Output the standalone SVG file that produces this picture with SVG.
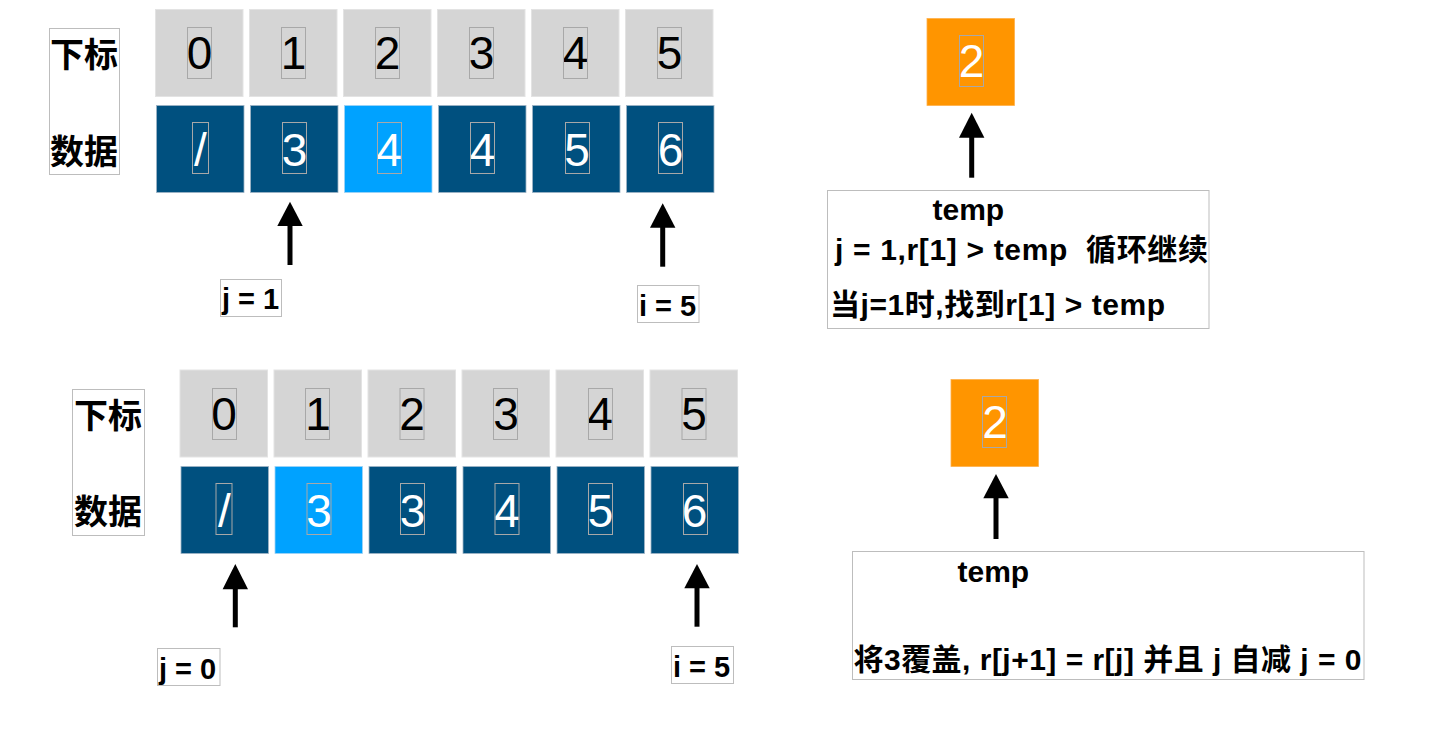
<svg xmlns="http://www.w3.org/2000/svg" width="1448" height="744" viewBox="0 0 1448 744">
<style>
.bg{fill:#ffffff}
.gray{fill:#d5d5d5;stroke:#e3e3e3;stroke-width:1}
.dark{fill:#00507f;stroke:#9fb4c6;stroke-width:0.8}
.light{fill:#00a2ff;stroke:#9fd3f5;stroke-width:0.8}
.orange{fill:#ff9500;stroke:#ffb04a;stroke-width:0.8}
.tf{fill:none;stroke:#a8a8a8;stroke-width:1}
.lbl{fill:#ffffff;stroke:#bdbdbd;stroke-width:1}
.dk{font-family:"Liberation Sans","Noto Sans CJK SC",sans-serif;font-size:46px;fill:#000;text-anchor:middle}
.wt{font-family:"Liberation Sans","Noto Sans CJK SC",sans-serif;font-size:46px;fill:#fff;text-anchor:middle}
.cj{font-family:"Liberation Sans","Noto Sans CJK SC",sans-serif;font-size:34px;font-weight:bold;fill:#000;text-anchor:middle}
.pt{font-family:"Liberation Sans","Noto Sans CJK SC",sans-serif;font-size:29px;font-weight:bold;fill:#000}
.tx{font-family:"Liberation Sans","Noto Sans CJK SC",sans-serif;font-size:30px;font-weight:bold;fill:#000;white-space:pre}
.shaft{stroke:#000;stroke-width:5;fill:none}
.head{fill:#000}
</style>
<rect class="bg" x="0" y="0" width="1448" height="744"/>

<!-- ===== Top section ===== -->
<g id="top-legend">
  <rect class="lbl" x="49.5" y="28.5" width="70" height="146"/>
  <text class="cj" x="84" y="67">下标</text>
  <text class="cj" x="84" y="164">数据</text>
</g>

<g id="top-index">
  <g id="ti0"><rect class="gray" x="155.5" y="9.5" width="87.5" height="87"/><text class="dk" x="199.5" y="69">0</text><rect class="tf" x="187.5" y="27.5" width="24" height="51"/></g>
  <g id="ti1"><rect class="gray" x="249.5" y="9.5" width="87.5" height="87"/><text class="dk" x="293.5" y="69">1</text><rect class="tf" x="281.5" y="27.5" width="24" height="51"/></g>
  <g id="ti2"><rect class="gray" x="343.5" y="9.5" width="87.5" height="87"/><text class="dk" x="387.5" y="69">2</text><rect class="tf" x="375.5" y="27.5" width="24" height="51"/></g>
  <g id="ti3"><rect class="gray" x="437.5" y="9.5" width="87.5" height="87"/><text class="dk" x="481.5" y="69">3</text><rect class="tf" x="469.5" y="27.5" width="24" height="51"/></g>
  <g id="ti4"><rect class="gray" x="531.5" y="9.5" width="87.5" height="87"/><text class="dk" x="575.5" y="69">4</text><rect class="tf" x="563.5" y="27.5" width="24" height="51"/></g>
  <g id="ti5"><rect class="gray" x="625.5" y="9.5" width="87.5" height="87"/><text class="dk" x="669.5" y="69">5</text><rect class="tf" x="657.5" y="27.5" width="24" height="51"/></g>
</g>

<g id="top-data">
  <g id="td0"><rect class="dark" x="156.5" y="105.5" width="87.5" height="87"/><text class="wt" x="200.5" y="166">/</text><rect class="tf" x="192.5" y="122.5" width="16" height="51"/></g>
  <g id="td1"><rect class="dark" x="250.5" y="105.5" width="87.5" height="87"/><text class="wt" x="294.5" y="166">3</text><rect class="tf" x="282.5" y="122.5" width="24" height="51"/></g>
  <g id="td2"><rect class="light" x="344.5" y="105.5" width="87.5" height="87"/><text class="wt" x="389" y="166">4</text><rect class="tf" x="377.5" y="122.5" width="24" height="51"/></g>
  <g id="td3"><rect class="dark" x="438.5" y="105.5" width="87.5" height="87"/><text class="wt" x="482.5" y="166">4</text><rect class="tf" x="470.5" y="122.5" width="24" height="51"/></g>
  <g id="td4"><rect class="dark" x="532.5" y="105.5" width="87.5" height="87"/><text class="wt" x="577" y="166">5</text><rect class="tf" x="565.5" y="122.5" width="24" height="51"/></g>
  <g id="td5"><rect class="dark" x="626.5" y="105.5" width="87.5" height="87"/><text class="wt" x="670.5" y="166">6</text><rect class="tf" x="658.5" y="122.5" width="24" height="51"/></g>
</g>

<g id="top-j-label"><rect class="lbl" x="220.5" y="279.5" width="61" height="37"/><text class="pt" x="222" y="309">j = 1</text></g>
<g id="top-i-label"><rect class="lbl" x="637.5" y="285.5" width="61.5" height="37"/><text class="pt" x="639" y="315.5">i = 5</text></g>

<g id="top-temp"><rect class="orange" x="927" y="18.5" width="87.5" height="87"/><text class="wt" x="971.5" y="77">2</text><rect class="tf" x="959.5" y="35.5" width="24" height="51"/></g>

<g id="top-note">
  <rect class="lbl" x="827.5" y="190.5" width="381.5" height="138"/>
  <text class="tx" x="932.5" y="220">temp</text>
  <text class="tx" x="835" y="259.5" textLength="373" lengthAdjust="spacing">j = 1,r[1] &gt; temp  循环继续</text>
  <text class="tx" x="830" y="315" textLength="335" lengthAdjust="spacing">当j=1时,找到r[1] &gt; temp</text>
</g>

<!-- ===== Bottom section ===== -->
<g id="bottom-legend">
  <rect class="lbl" x="72.5" y="389.5" width="72" height="146"/>
  <text class="cj" x="108" y="427.5">下标</text>
  <text class="cj" x="108" y="524">数据</text>
</g>

<g id="bottom-index">
  <g id="bi0"><rect class="gray" x="180" y="370" width="87.5" height="87"/><text class="dk" x="224" y="430">0</text><rect class="tf" x="212.5" y="388.5" width="24" height="51"/></g>
  <g id="bi1"><rect class="gray" x="274" y="370" width="87.5" height="87"/><text class="dk" x="318" y="430">1</text><rect class="tf" x="305.5" y="388.5" width="24" height="51"/></g>
  <g id="bi2"><rect class="gray" x="368" y="370" width="87.5" height="87"/><text class="dk" x="412" y="430">2</text><rect class="tf" x="400" y="388.5" width="24" height="51"/></g>
  <g id="bi3"><rect class="gray" x="462" y="370" width="87.5" height="87"/><text class="dk" x="506" y="430">3</text><rect class="tf" x="493.5" y="388.5" width="24" height="51"/></g>
  <g id="bi4"><rect class="gray" x="556" y="370" width="87.5" height="87"/><text class="dk" x="600" y="430">4</text><rect class="tf" x="588.5" y="388.5" width="24" height="51"/></g>
  <g id="bi5"><rect class="gray" x="650" y="370" width="87.5" height="87"/><text class="dk" x="694" y="430">5</text><rect class="tf" x="682" y="388.5" width="24" height="51"/></g>
</g>

<g id="bottom-data">
  <g id="bd0"><rect class="dark" x="181" y="466.5" width="87.5" height="87"/><text class="wt" x="224.5" y="527">/</text><rect class="tf" x="216" y="483.5" width="16" height="51"/></g>
  <g id="bd1"><rect class="light" x="275" y="466.5" width="87.5" height="87"/><text class="wt" x="319" y="527">3</text><rect class="tf" x="307" y="483.5" width="24" height="51"/></g>
  <g id="bd2"><rect class="dark" x="369" y="466.5" width="87.5" height="87"/><text class="wt" x="412.5" y="527">3</text><rect class="tf" x="400.5" y="483.5" width="24" height="51"/></g>
  <g id="bd3"><rect class="dark" x="463" y="466.5" width="87.5" height="87"/><text class="wt" x="507" y="527">4</text><rect class="tf" x="495" y="483.5" width="24" height="51"/></g>
  <g id="bd4"><rect class="dark" x="557" y="466.5" width="87.5" height="87"/><text class="wt" x="600.5" y="527">5</text><rect class="tf" x="588.5" y="483.5" width="24" height="51"/></g>
  <g id="bd5"><rect class="dark" x="651" y="466.5" width="87.5" height="87"/><text class="wt" x="694.5" y="527">6</text><rect class="tf" x="683.5" y="483.5" width="24" height="51"/></g>
</g>

<g id="bottom-j-label"><rect class="lbl" x="157.5" y="648.5" width="62.5" height="37"/><text class="pt" x="159" y="678.5">j = 0</text></g>
<g id="bottom-i-label"><rect class="lbl" x="671.5" y="646.5" width="62" height="37"/><text class="pt" x="673" y="676.5">i = 5</text></g>

<g id="bottom-temp"><rect class="orange" x="951" y="379.5" width="87.5" height="87"/><text class="wt" x="995" y="438">2</text><rect class="tf" x="982.5" y="396.5" width="24" height="51"/></g>

<g id="bottom-note">
  <rect class="lbl" x="852.5" y="551.5" width="511.5" height="128"/>
  <text class="tx" x="957.5" y="581.5">temp</text>
  <text class="tx" x="853.5" y="670" textLength="508" lengthAdjust="spacing">将3覆盖, r[j+1] = r[j] 并且 j 自减 j = 0</text>
</g>

<!-- ===== Connectors ===== -->
<g id="connectors">
  <line class="shaft" x1="290" y1="265" x2="290" y2="222"/>
  <polygon class="head" points="290,201.7 277.3,226 302.7,226"/>
  <line class="shaft" x1="662.7" y1="266.7" x2="662.7" y2="224"/>
  <polygon class="head" points="662.7,203.3 650,227.7 675.4,227.7"/>
  <line class="shaft" x1="971.7" y1="177.7" x2="971.7" y2="134"/>
  <polygon class="head" points="971.7,112.7 959,137.7 984.4,137.7"/>
  <line class="shaft" x1="235.3" y1="627.3" x2="235.3" y2="585"/>
  <polygon class="head" points="235.3,564 222.6,589.3 248,589.3"/>
  <line class="shaft" x1="697" y1="626.7" x2="697" y2="585"/>
  <polygon class="head" points="697,564 684.3,588.3 709.7,588.3"/>
  <line class="shaft" x1="996" y1="539" x2="996" y2="495"/>
  <polygon class="head" points="996,474 983.3,498.3 1008.7,498.3"/>
</g>
</svg>
